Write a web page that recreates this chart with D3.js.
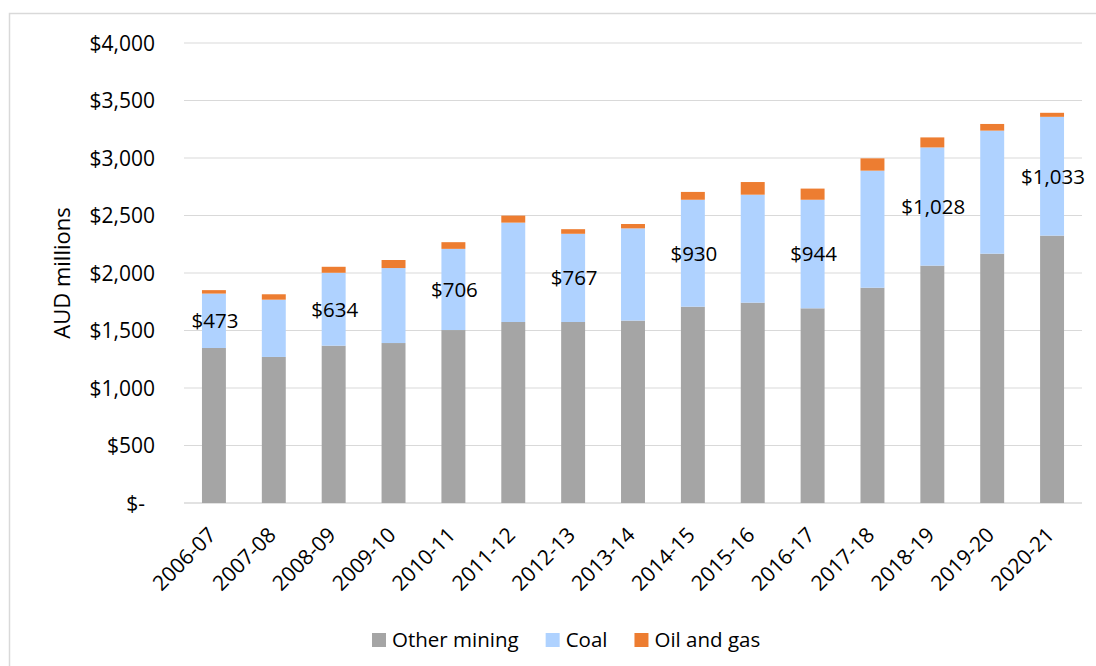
<!DOCTYPE html>
<html>
<head>
<meta charset="utf-8">
<script src="https://cdn.jsdelivr.net/npm/d3@7"></script>
<style>
  body { margin: 0; background: #fff; }
  text { font-family: "Open Sans", sans-serif; fill: #000; }
</style>
</head>
<body>
<script>
// ---------- data ----------
let categories = ['2006-07', '2007-08', '2008-09', '2009-10', '2010-11', '2011-12', '2012-13',
  '2013-14', '2014-15', '2015-16', '2016-17', '2017-18', '2018-19', '2019-20', '2020-21'];
let otherMining = [1348, 1270, 1368, 1391, 1504, 1574, 1574, 1586, 1707, 1742, 1693, 1872, 2064, 2168, 2325];
let coal = [473, 498, 634, 652, 706, 864, 767, 802, 930, 939, 944, 1018, 1028, 1070, 1033];
let oilGas = [30, 47, 52, 70, 58, 61, 40, 38, 68, 110, 97, 107, 87, 58, 35];
let seriesNames = ['Other mining', 'Coal', 'Oil and gas'];
let yTicks = [0, 500, 1000, 1500, 2000, 2500, 3000, 3500, 4000];

let width = 1096, height = 666;
let colors = ['#A5A5A5', '#AFD2FF', '#ED7D31'];

let svg = d3.select('body').append('svg')
  .attr('width', width)
  .attr('height', height);

// chart border
svg.append('rect')
  .attr('x', 9.5).attr('y', 13.5)
  .attr('width', 1200).attr('height', 800)
  .attr('fill', 'none')
  .attr('stroke', '#D9D9D9')
  .attr('stroke-width', 1.5);

let plotLeft = 184, plotRight = 1082, plotTop = 43, plotBottom = 503;

let x = d3.scaleBand()
  .domain(categories)
  .range([plotLeft, plotRight])
  .paddingInner(0.6)
  .paddingOuter(0.3);

let y = d3.scaleLinear()
  .domain([0, 4000])
  .range([plotBottom, plotTop]);

let fmt = d3.format(',');

// gridlines
svg.append('g').selectAll('line')
  .data(yTicks)
  .enter().append('line')
  .attr('x1', plotLeft).attr('x2', plotRight)
  .attr('y1', d => y(d)).attr('y2', d => y(d))
  .attr('stroke', '#D9D9D9')
  .attr('stroke-width', d => d === 0 ? 1.5 : 1.2);

// y tick labels
svg.append('g').selectAll('text')
  .data(yTicks)
  .enter().append('text')
  .attr('x', d => d === 0 ? 145 : 155)
  .attr('y', d => y(d))
  .attr('dy', '0.36em')
  .attr('text-anchor', 'end')
  .style('font-size', '21px')
  .text(d => d === 0 ? '$-' : '$' + fmt(d));

// axis title
svg.append('text')
  .attr('transform', `translate(70,${(plotTop + plotBottom) / 2}) rotate(-90)`)
  .attr('text-anchor', 'middle')
  .style('font-size', '22px')
  .text('AUD millions');

//---------- stacked bars ----------
let table = categories.map((c, i) => ({
  cat: c, 'Other mining': otherMining[i], 'Coal': coal[i], 'Oil and gas': oilGas[i]
}));
let stack = d3.stack().keys(seriesNames)(table);

svg.append('g').selectAll('g')
  .data(stack)
  .enter().append('g')
  .attr('fill', (d, i) => colors[i])
  .selectAll('rect')
  .data(d => d)
  .enter().append('rect')
  .attr('x', d => x(d.data.cat))
  .attr('width', x.bandwidth())
  .attr('y', d => y(d[1]))
  .attr('height', d => y(d[0]) - y(d[1]));

// coal labels on every second bar
let coalLayer = stack[1];
svg.append('g').selectAll('text')
  .data(coalLayer.filter((d, i) => i % 2 === 0))
  .enter().append('text')
  .attr('x', d => x(d.data.cat) + x.bandwidth() / 2 + 1)
  .attr('y', d => y((d[0] + d[1]) / 2))
  .attr('dy', '0.36em')
  .attr('text-anchor', 'middle')
  .style('font-size', '20.5px')
  .text(d => '$' + fmt(d.data['Coal']));

// x labels
svg.append('g').selectAll('text')
  .data(categories)
  .enter().append('text')
  .attr('transform', d => `translate(${x(d) + x.bandwidth() / 2 - 2},${531}) rotate(-45)`)
  .attr('dy', '0.36em')
  .attr('text-anchor', 'end')
  .style('font-size', '21px')
  .text(d => d);

//---------- legend ----------
let legend = svg.append('g').attr('transform', 'translate(372,633)');
let lx = 0;
seriesNames.forEach(function (name, i) {
  let g = legend.append('g').attr('transform', `translate(${lx},0)`);
  g.append('rect').attr('width', 14).attr('height', 14).attr('fill', colors[i]);
  let t = g.append('text')
    .attr('x', 20).attr('y', 7)
    .attr('dy', '0.36em')
    .style('font-size', '20.5px')
    .text(name);
  lx += 20 + t.node().getComputedTextLength() + 27;
});
</script>
</body>
</html>
